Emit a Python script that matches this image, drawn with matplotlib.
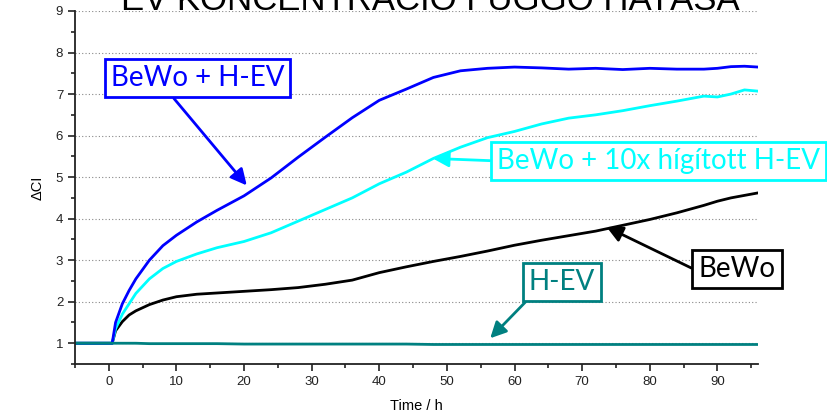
import numpy as np
import matplotlib.pyplot as plt
from matplotlib.ticker import MultipleLocator

# Time axis (h) shared by all measured curves
time_h = [-5, 0, 0.5, 1, 2, 3, 4, 6, 8, 10, 13, 16, 20, 24, 28, 32, 36, 40, 44,
          48, 52, 56, 60, 64, 68, 72, 76, 80, 84, 88, 90, 92, 94, 96]

bewo_hev = [1, 1, 1, 1.5, 1.95, 2.27, 2.55, 3.0, 3.35, 3.6, 3.92, 4.2, 4.55, 4.98,
            5.48, 5.96, 6.43, 6.85, 7.12, 7.4, 7.56, 7.62, 7.65, 7.63, 7.6, 7.62,
            7.59, 7.62, 7.6, 7.6, 7.62, 7.66, 7.67, 7.65]
bewo_10x = [1, 1, 1, 1.35, 1.7, 1.95, 2.2, 2.55, 2.8, 2.97, 3.15, 3.3, 3.45, 3.66,
            3.94, 4.22, 4.5, 4.84, 5.12, 5.45, 5.72, 5.95, 6.1, 6.28, 6.42, 6.5,
            6.6, 6.72, 6.83, 6.95, 6.93, 7.0, 7.1, 7.07]
bewo = [1, 1, 1, 1.3, 1.52, 1.68, 1.78, 1.93, 2.04, 2.12, 2.18, 2.21, 2.25, 2.29,
        2.34, 2.42, 2.52, 2.7, 2.84, 2.97, 3.09, 3.22, 3.36, 3.48, 3.59, 3.7,
        3.84, 3.98, 4.14, 4.32, 4.42, 4.5, 4.56, 4.62]
hev = [1, 1, 1, 1, 1, 1, 1, 0.99, 0.99, 0.99, 0.99, 0.99, 0.98, 0.98, 0.98, 0.98,
       0.98, 0.98, 0.98, 0.97, 0.97, 0.97, 0.97, 0.97, 0.97, 0.97, 0.97, 0.97,
       0.97, 0.97, 0.97, 0.97, 0.97, 0.97]

title = 'EV KONCENTRÁCIÓ FÜGGŐ HATÁSA'

c_blue = '#0000ff'
c_cyan = '#00ffff'
c_black = '#000000'
c_teal = '#008080'

plt.rcParams['font.family'] = ['Liberation Sans', 'DejaVu Sans']

fig = plt.figure(figsize=(8.28, 4.19), dpi=100)
ax = fig.add_axes([75/828, 55/419, 683/828, 353/419])

ax.plot(time_h, bewo, color=c_black, lw=2)
ax.plot(time_h, bewo_10x, color=c_cyan, lw=2)
ax.plot(time_h, bewo_hev, color=c_blue, lw=2)
ax.plot(time_h, hev, color=c_teal, lw=2)

ax.set_xlim(-5, 96)
ax.set_ylim(0.5, 9)
ax.xaxis.set_major_locator(MultipleLocator(10))
ax.xaxis.set_minor_locator(MultipleLocator(5))
ax.yaxis.set_major_locator(MultipleLocator(1))
ax.yaxis.set_minor_locator(MultipleLocator(0.5))
ax.grid(axis='y', which='major', ls=(0, (1, 2)), color='#888888', lw=0.8)
ax.set_axisbelow(True)
for s in ['top', 'right']:
    ax.spines[s].set_visible(False)
for s in ['left', 'bottom']:
    ax.spines[s].set_linewidth(1.3)
    ax.spines[s].set_color('#222222')
ax.tick_params(which='major', length=5, width=1.2, labelsize=9.5, colors='#222222')
ax.tick_params(which='minor', length=3, width=1.2, colors='#222222')
ax.set_xlabel('Time / h', fontsize=10.5, labelpad=8)
ax.set_ylabel('ΔCI', fontsize=10.5, labelpad=8)

# title sits partly above the top edge, as in the original slide
fig.text(0.52, 1 - 10/419, title, ha='center', va='baseline', fontsize=25)

ann_font = ['Lato', 'DejaVu Sans']


def label(text, xy, xytext, color, relpos, ha='center'):
    ax.annotate(text, xy=xy, xytext=xytext, textcoords='data', ha=ha, va='center',
                color=color, fontsize=20, family=ann_font, annotation_clip=False,
                bbox=dict(boxstyle='square,pad=0.22', fc='white', ec=color, lw=2),
                arrowprops=dict(arrowstyle='-|>', color=color, lw=2,
                                mutation_scale=24, relpos=relpos,
                                shrinkA=0, shrinkB=0))


label('BeWo + H-EV', (20.4, 4.8), (13.1, 7.38), c_blue, (0.33, 0))
label('BeWo + 10x hígított H-EV', (47.9, 5.45), (57.4, 5.39), c_cyan, (0, 0.5), ha='left')
label('BeWo', (73.6, 3.8), (92.9, 2.79), c_black, (0, 0.4))
label('H-EV', (56.4, 1.12), (67.0, 2.47), c_teal, (0.05, 0))

fig.savefig('out.png', dpi=100)
